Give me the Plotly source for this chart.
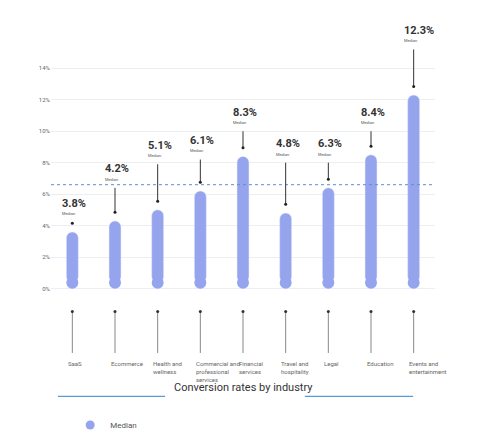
import plotly.graph_objects as go

categories = ["SaaS", "Ecommerce", "Health and<br>wellness", "Commercial and<br>professional<br>services",
              "Financial<br>services", "Travel and<br>hospitality", "Legal", "Education", "Events and<br>entertainment"]
bar_values = [3.6, 4.3, 5.0, 6.2, 8.4, 4.8, 6.4, 8.5, 12.3]
label_texts = ["3.8%", "4.2%", "5.1%", "6.1%", "8.3%", "4.8%", "6.3%", "8.4%", "12.3%"]
all_median = 6.6
y_ticks = [0, 2, 4, 6, 8, 10, 12, 14]

# layout helpers (label heights in axis units)
label_y = [5.4, 7.6, 9.1, 9.4, 11.2, 9.2, 9.2, 11.2, 16.4]

BAR = "#96a4ee"
R = 0.37
xs = list(range(len(categories)))

fig = go.Figure()
fig.add_trace(go.Bar(x=xs, y=[v - R for v in bar_values], base=[R]*9, width=0.28,
                     marker=dict(color=BAR, cornerradius=6), showlegend=False, hoverinfo="skip"))
fig.add_trace(go.Scatter(x=xs, y=[R]*9, mode="markers", marker=dict(color=BAR, size=12),
                         showlegend=False, hoverinfo="skip"))
# legend entry
fig.add_trace(go.Scatter(x=[None], y=[None], mode="markers", name="Median",
                         marker=dict(color=BAR, size=9)))
# median line
fig.add_trace(go.Scatter(x=[-0.5, 8.5], y=[all_median]*2, mode="lines",
                         line=dict(color="#5b8fd1", width=1, dash="dot"), showlegend=False, hoverinfo="skip"))
# stems above bars
sx, sy, dx, dy = [], [], [], []
for i, v in enumerate(bar_values):
    sx += [i, i, None]; sy += [label_y[i] - 1.2, v + 0.55, None]
    dx.append(i); dy.append(v + 0.55)
fig.add_trace(go.Scatter(x=sx, y=sy, mode="lines", line=dict(color="#333", width=1),
                         showlegend=False, hoverinfo="skip"))
fig.add_trace(go.Scatter(x=dx, y=dy, mode="markers", marker=dict(color="#222", size=3),
                         showlegend=False, hoverinfo="skip"))
# stems below axis
lx, ly = [], []
for i in xs:
    lx += [i, i, None]; ly += [-1.47, -4.1, None]
fig.add_trace(go.Scatter(x=lx, y=ly, mode="lines", line=dict(color="#888", width=1),
                         showlegend=False, hoverinfo="skip"))
fig.add_trace(go.Scatter(x=xs, y=[-1.47]*9, mode="markers", marker=dict(color="#333", size=3),
                         showlegend=False, hoverinfo="skip"))

ann = []
for i in xs:
    ann.append(dict(x=i - 0.28, y=label_y[i], text="<b>" + label_texts[i] + "</b>", showarrow=False,
                    xanchor="left", yanchor="middle", font=dict(size=11, color="#333", family="Roboto")))
    ann.append(dict(x=i - 0.28, y=label_y[i] - 0.65, text="Median", showarrow=False,
                    xanchor="left", yanchor="middle", font=dict(size=4, color="#555", family="Roboto")))
    ann.append(dict(x=i - 0.15, y=-4.4, text=categories[i], showarrow=False, align="left",
                    xanchor="left", yanchor="top", font=dict(size=6, color="#666", family="Roboto")))
ann.append(dict(x=8.75, y=9.0, xref="x", text="All industries<br>median (<b>6.6%</b>)", showarrow=False,
                align="left", xanchor="left", yanchor="middle", font=dict(size=6, color="#444", family="Roboto")))
ann.append(dict(x=0.5, y=-0.06, xref="paper", yref="paper", text="Conversion rates by industry",
                showarrow=False, font=dict(size=11, color="#333", family="Roboto")))
ann.append(dict(x=9.4, y=8.5, ax=9.4, ay=all_median, axref="x", ayref="y", xref="x", yref="y",
                text="", showarrow=True, arrowhead=2, arrowsize=0.6, arrowwidth=0.8, arrowcolor="#555"))

shapes = [
    dict(type="line", xref="x", yref="y", x0=8.5, x1=9.4, y0=all_median, y1=all_median,
         line=dict(color="#555", width=0.8)),
    dict(type="line", xref="paper", yref="paper", x0=0.018, x1=0.297, y0=-0.06, y1=-0.06,
         line=dict(color="#5b9bd5", width=1.2)),
    dict(type="line", xref="paper", yref="paper", x0=0.661, x1=0.943, y0=-0.06, y1=-0.06,
         line=dict(color="#5b9bd5", width=1.2)),
]

fig.update_layout(
    width=500, height=442, margin=dict(l=43, r=73, t=10, b=61),
    paper_bgcolor="white", plot_bgcolor="white",
    font=dict(family="Roboto"),
    xaxis=dict(range=[-0.5, 8.5], showticklabels=False, showgrid=False, zeroline=False),
    yaxis=dict(range=[-5.5, 17.2], tickvals=y_ticks, ticktext=[f"{t}%" for t in y_ticks],
               showgrid=True, gridcolor="#eceef2", zeroline=False,
               tickfont=dict(size=6, color="#666")),
    legend=dict(orientation="h", x=0.05, y=-0.14, xanchor="left", yanchor="middle",
                font=dict(size=8, color="#555")),
    annotations=ann, shapes=shapes, bargap=0.7,
)
fig.write_html("out.html")
